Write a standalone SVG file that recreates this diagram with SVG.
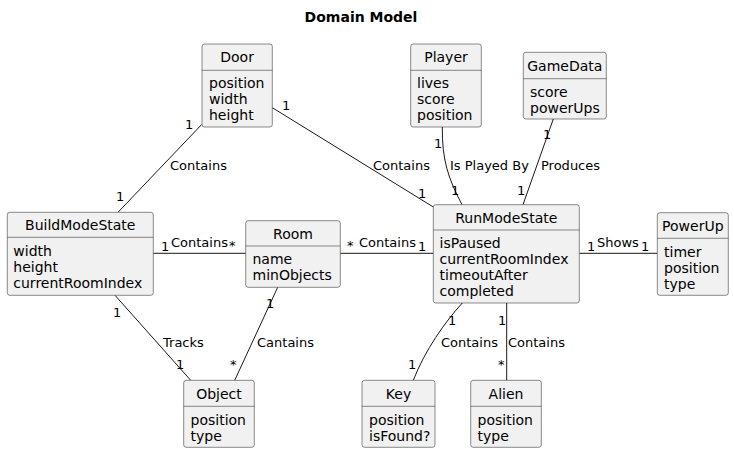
<svg xmlns="http://www.w3.org/2000/svg" width="734" height="453" viewBox="0 0 734 453">
<style>
.box{fill:#F1F1F1;stroke:#181818;stroke-width:0.5}
.div{stroke:#181818;stroke-width:0.5}
.name{font-family:"DejaVu Sans",sans-serif;font-size:14px;font-weight:normal;fill:#000;text-anchor:middle}
.attr{font-family:"DejaVu Sans",sans-serif;font-size:14px;font-weight:normal;fill:#000}
.lbl{font-family:"DejaVu Sans",sans-serif;font-size:13px;fill:#000}
.edge{fill:none;stroke:#181818;stroke-width:1}
.title{font-family:"DejaVu Sans",sans-serif;font-size:14px;font-weight:bold;fill:#000;text-anchor:middle}
</style>
<rect width="734" height="453" fill="#FFFFFF"/>
<text class="title" x="361" y="22">Domain Model</text>

<g id="connectors">
  <path class="edge" d="M201.7,124.5 L118,212.3"/>
  <path class="edge" d="M272.3,107.7 L433.3,207"/>
  <path class="edge" d="M442.3,127 C442,160 448,178 462,204.7"/>
  <path class="edge" d="M553.3,119 L523,204.7"/>
  <path class="edge" d="M153.3,253.3 L245.7,253.3"/>
  <path class="edge" d="M340.3,253.3 L433.3,253.3"/>
  <path class="edge" d="M579.3,253.3 L657.3,253.3"/>
  <path class="edge" d="M115,295.3 L190.7,380.3"/>
  <path class="edge" d="M277.7,287.3 L234.7,380.3"/>
  <path class="edge" d="M462.3,303 C445,322 425,350 413.3,380.3"/>
  <path class="edge" d="M506.7,303 L506.7,380.3"/>

  <text class="lbl" x="185" y="129">1</text>
  <text class="lbl" x="170" y="170">Contains</text>
  <text class="lbl" x="116" y="201">1</text>

  <text class="lbl" x="282" y="110">1</text>
  <text class="lbl" x="373" y="170">Contains</text>
  <text class="lbl" x="418" y="198">1</text>

  <text class="lbl" x="434" y="148">1</text>
  <text class="lbl" x="450" y="170">Is Played By</text>
  <text class="lbl" x="451" y="195">1</text>

  <text class="lbl" x="543" y="139">1</text>
  <text class="lbl" x="541" y="170">Produces</text>
  <text class="lbl" x="517" y="195">1</text>

  <text class="lbl" x="161" y="251">1</text>
  <text class="lbl" x="171" y="247">Contains</text>
  <text class="lbl" x="229" y="250">*</text>

  <text class="lbl" x="347" y="250">*</text>
  <text class="lbl" x="359" y="247">Contains</text>
  <text class="lbl" x="418" y="251">1</text>

  <text class="lbl" x="587" y="251">1</text>
  <text class="lbl" x="597" y="247">Shows</text>
  <text class="lbl" x="641" y="251">1</text>

  <text class="lbl" x="113" y="317">1</text>
  <text class="lbl" x="163" y="347">Tracks</text>
  <text class="lbl" x="176" y="369">1</text>

  <text class="lbl" x="266" y="308">1</text>
  <text class="lbl" x="257" y="347">Cantains</text>
  <text class="lbl" x="230" y="369">*</text>

  <text class="lbl" x="448" y="325">1</text>
  <text class="lbl" x="441" y="347">Contains</text>
  <text class="lbl" x="408" y="369">1</text>

  <text class="lbl" x="498" y="325">1</text>
  <text class="lbl" x="508" y="347">Contains</text>
  <text class="lbl" x="498" y="369">*</text>
</g>

<g id="Door">
  <rect class="box" x="202" y="44" width="70.3" height="83" rx="2.5"/>
  <line class="div" x1="202" y1="70.3" x2="272.3" y2="70.3"/>
  <text class="name" x="237.1" y="62">Door</text>
  <text class="attr" x="209" y="88">position</text>
  <text class="attr" x="209" y="104">width</text>
  <text class="attr" x="209" y="120">height</text>
</g>

<g id="Player">
  <rect class="box" x="410.7" y="44" width="70.6" height="83" rx="2.5"/>
  <line class="div" x1="410.7" y1="70.3" x2="481.3" y2="70.3"/>
  <text class="name" x="446" y="62">Player</text>
  <text class="attr" x="417" y="88">lives</text>
  <text class="attr" x="417" y="104">score</text>
  <text class="attr" x="417" y="120">position</text>
</g>

<g id="GameData">
  <rect class="box" x="523.3" y="52.3" width="83" height="66.7" rx="2.5"/>
  <line class="div" x1="523.3" y1="78.7" x2="606.3" y2="78.7"/>
  <text class="name" x="564.8" y="70.5">GameData</text>
  <text class="attr" x="530" y="96.5">score</text>
  <text class="attr" x="530" y="112.5">powerUps</text>
</g>

<g id="BuildModeState">
  <rect class="box" x="7.3" y="212.3" width="146" height="83" rx="2.5"/>
  <line class="div" x1="7.3" y1="237.3" x2="153.3" y2="237.3"/>
  <text class="name" x="80.3" y="230">BuildModeState</text>
  <text class="attr" x="13.3" y="255.5">width</text>
  <text class="attr" x="13.3" y="271.5">height</text>
  <text class="attr" x="13.3" y="287.5">currentRoomIndex</text>
</g>

<g id="Room">
  <rect class="box" x="245.7" y="220.7" width="94.6" height="66.6" rx="2.5"/>
  <line class="div" x1="245.7" y1="246" x2="340.3" y2="246"/>
  <text class="name" x="293" y="238.5">Room</text>
  <text class="attr" x="252.5" y="264">name</text>
  <text class="attr" x="252.5" y="280">minObjects</text>
</g>

<g id="RunModeState">
  <rect class="box" x="433.3" y="204.7" width="146" height="98.3" rx="2.5"/>
  <line class="div" x1="433.3" y1="230" x2="579.3" y2="230"/>
  <text class="name" x="506.3" y="222.5">RunModeState</text>
  <text class="attr" x="439.5" y="248">isPaused</text>
  <text class="attr" x="439.5" y="264">currentRoomIndex</text>
  <text class="attr" x="439.5" y="280">timeoutAfter</text>
  <text class="attr" x="439.5" y="296">completed</text>
</g>

<g id="PowerUp">
  <rect class="box" x="657.3" y="212.7" width="71" height="82.6" rx="2.5"/>
  <line class="div" x1="657.3" y1="238.3" x2="728.3" y2="238.3"/>
  <text class="name" x="692.8" y="230.5">PowerUp</text>
  <text class="attr" x="664" y="256.5">timer</text>
  <text class="attr" x="664" y="272.5">position</text>
  <text class="attr" x="664" y="288.5">type</text>
</g>

<g id="Object">
  <rect class="box" x="183.7" y="380.3" width="70.6" height="67" rx="2.5"/>
  <line class="div" x1="183.7" y1="406.3" x2="254.3" y2="406.3"/>
  <text class="name" x="219" y="398.5">Object</text>
  <text class="attr" x="190.5" y="424.5">position</text>
  <text class="attr" x="190.5" y="440.5">type</text>
</g>

<g id="Key">
  <rect class="box" x="362" y="380.3" width="73" height="67" rx="2.5"/>
  <line class="div" x1="362" y1="406.3" x2="435" y2="406.3"/>
  <text class="name" x="398.5" y="398.5">Key</text>
  <text class="attr" x="369" y="424.5">position</text>
  <text class="attr" x="369" y="440.5">isFound?</text>
</g>

<g id="Alien">
  <rect class="box" x="470.7" y="380.3" width="70.6" height="67" rx="2.5"/>
  <line class="div" x1="470.7" y1="406.3" x2="541.3" y2="406.3"/>
  <text class="name" x="506" y="398.5">Alien</text>
  <text class="attr" x="477.5" y="424.5">position</text>
  <text class="attr" x="477.5" y="440.5">type</text>
</g>
</svg>
